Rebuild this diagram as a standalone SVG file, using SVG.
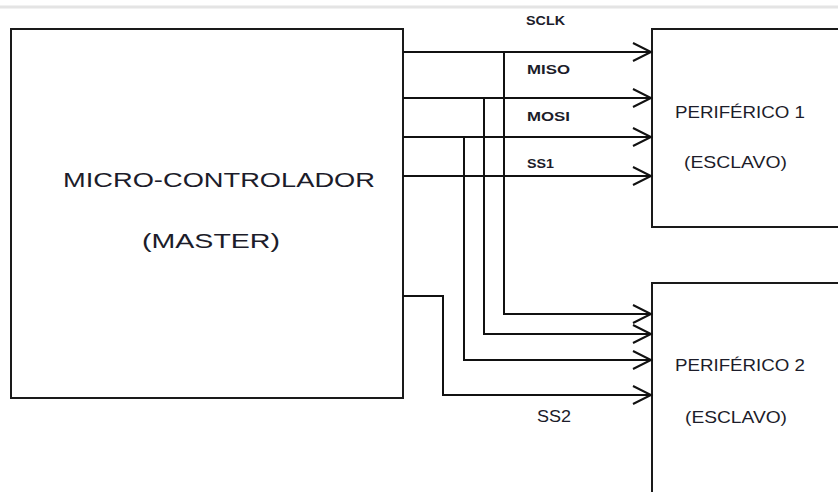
<svg xmlns="http://www.w3.org/2000/svg" width="838" height="492" viewBox="0 0 838 492">
<style>
.box{fill:#fff;stroke:#1a1a1a;stroke-width:2}
.wire{fill:none;stroke:#111;stroke-width:2}
.t{font-family:"Liberation Sans",Arial,sans-serif;fill:#1c1c2a}
.sig{font-size:12px;font-weight:bold}
</style>
<defs>
<marker id="arr" markerWidth="22" markerHeight="22" refX="19" refY="10" orient="auto" markerUnits="userSpaceOnUse">
<path d="M1,1 L19,10 L1,19" fill="none" stroke="#111" stroke-width="2"/>
</marker>
</defs>
<rect width="838" height="492" fill="#fff"/>
<line x1="0" y1="7" x2="838" y2="7" stroke="#e4e4e4" stroke-width="3"/>
<g id="master">
<rect class="box" x="11" y="29" width="392" height="369"/>
<text class="t" x="63" y="187" font-size="21" textLength="312" lengthAdjust="spacingAndGlyphs">MICRO-CONTROLADOR</text>
<text class="t" x="142" y="248" font-size="21" textLength="138" lengthAdjust="spacingAndGlyphs">(MASTER)</text>
</g>
<g id="periferico1">
<rect class="box" x="652" y="29" width="200" height="198"/>
<text class="t" x="675" y="118" font-size="16.5" textLength="130" lengthAdjust="spacingAndGlyphs">PERIFÉRICO 1</text>
<text class="t" x="684" y="168" font-size="16.5" textLength="103" lengthAdjust="spacingAndGlyphs">(ESCLAVO)</text>
</g>
<g id="periferico2">
<rect class="box" x="652" y="283" width="200" height="230"/>
<text class="t" x="675" y="371" font-size="16.5" textLength="130" lengthAdjust="spacingAndGlyphs">PERIFÉRICO 2</text>
<text class="t" x="685" y="423" font-size="16.5" textLength="102" lengthAdjust="spacingAndGlyphs">(ESCLAVO)</text>
</g>
<g id="connectors">
<line class="wire" x1="403" y1="52" x2="651" y2="52" marker-end="url(#arr)"/>
<line class="wire" x1="403" y1="98" x2="651" y2="98" marker-end="url(#arr)"/>
<line class="wire" x1="403" y1="137" x2="651" y2="137" marker-end="url(#arr)"/>
<line class="wire" x1="403" y1="176" x2="651" y2="176" marker-end="url(#arr)"/>
<polyline class="wire" points="504,52 504,314 651,314" marker-end="url(#arr)"/>
<polyline class="wire" points="484,98 484,334 651,334" marker-end="url(#arr)"/>
<polyline class="wire" points="464,137 464,360 651,360" marker-end="url(#arr)"/>
<polyline class="wire" points="403,296 443,296 443,395 651,395" marker-end="url(#arr)"/>
</g>
<g id="labels">
<text class="t sig" x="526" y="25" textLength="39" lengthAdjust="spacingAndGlyphs">SCLK</text>
<text class="t sig" x="527" y="74" textLength="43" lengthAdjust="spacingAndGlyphs">MISO</text>
<text class="t sig" x="527" y="121" textLength="43" lengthAdjust="spacingAndGlyphs">MOSI</text>
<text class="t sig" x="527" y="168" textLength="27" lengthAdjust="spacingAndGlyphs">SS1</text>
<text class="t" x="537" y="422" font-size="16" textLength="34" lengthAdjust="spacingAndGlyphs">SS2</text>
</g>
</svg>
